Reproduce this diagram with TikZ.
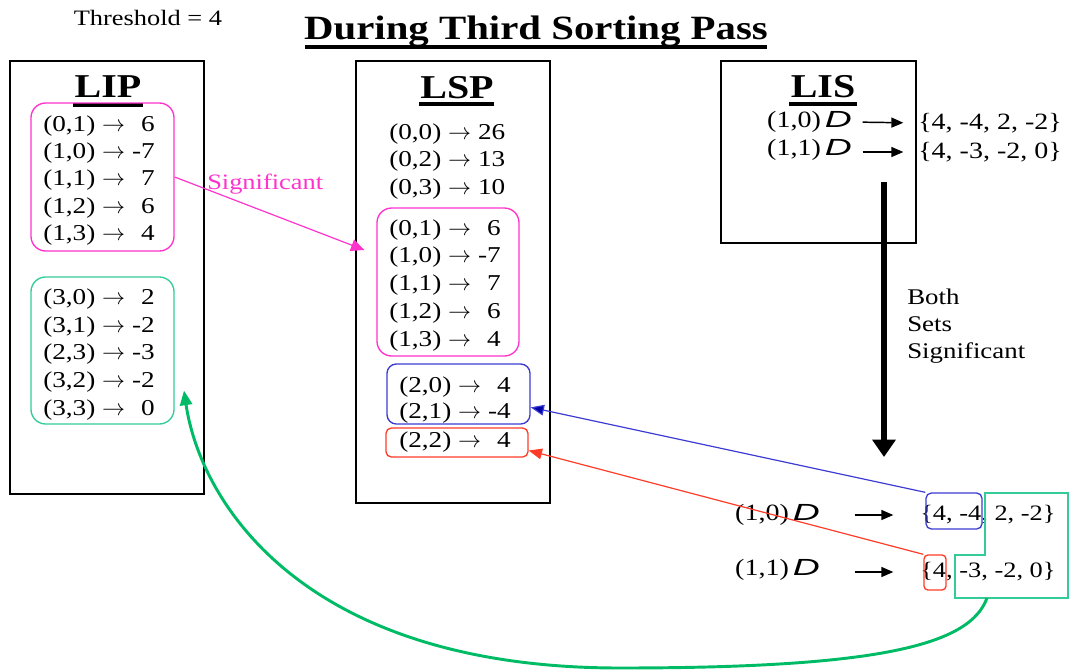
\documentclass[tikz,border=0pt]{standalone}
\usepackage{fontspec}
\setmainfont[FakeStretch=1.2]{Liberation Serif}
\newfontfamily\dfont[FakeStretch=1.6]{Liberation Sans}
\usetikzlibrary{arrows.meta,fit}

\definecolor{sigpink}{RGB}{255,51,204}
\definecolor{setgreen}{RGB}{51,204,153}
\definecolor{curvegreen}{RGB}{0,187,102}
\definecolor{setblue}{RGB}{60,60,210}
\definecolor{tipblue}{RGB}{0,0,170}
\definecolor{setred}{RGB}{255,60,40}

\newcommand{\Dset}{\,{\dfont\itshape D}}

\tikzset{
  listbox/.style={draw=black,line width=1.1pt,inner sep=0pt},
  entry/.style={anchor=west,inner sep=0pt,font=\fontsize{17}{20}\selectfont},
  settext/.style={inner sep=0pt,font=\fontsize{17.5}{20}\selectfont},
  listtitle/.style={inner sep=0pt,font=\bfseries\fontsize{25}{28}\selectfont},
  uline/.style={line width=3pt},
  groupbox/.style={draw=#1,line width=1pt,rounded corners=11pt,inner sep=0pt},
  smallarrow/.style={-{Triangle[length=9pt,width=7.5pt]},line width=1.1pt}
}

\begin{document}
\begin{tikzpicture}[x=0.75pt,y=-0.75pt]
\useasboundingbox (0,0) rectangle (1074,671);

% headings
\node[inner sep=0pt,font=\fontsize{16.5}{18}\selectfont] (thresh) at (148,18) {Threshold = 4};
\node[inner sep=0pt,font=\bfseries\fontsize{25.5}{28}\selectfont] (title) at (536,31) {During Third Sorting Pass};
\draw[uline] (305,47) -- (767,47);

% the three lists
\node[listbox,fit={(10,61) (204,494)}] (lip) {};
\node[listbox,fit={(356,61) (550,503)}] (lsp) {};
\node[listbox,fit={(721,61) (916,243)}] (lis) {};

\node[listtitle] (liptitle) at (108,87) {LIP};
\draw[uline] (73,105) -- (143,105);
\node[listtitle] (lsptitle) at (457,88) {LSP};
\draw[uline] (419,104) -- (494,104);
\node[listtitle] (listitle) at (823,87) {LIS};
\draw[uline] (789,104) -- (857,104);

% LIP entries
\node[groupbox=sigpink,fit={(31,103) (174,251)}] (lippink) {};
\node[entry] (lipa) at (43,126) {(0,1) $\rightarrow$ \hphantom{-}6};
\node[entry] (lipb) at (43,153) {(1,0) $\rightarrow$ -7};
\node[entry] (lipc) at (43,180) {(1,1) $\rightarrow$ \hphantom{-}7};
\node[entry] (lipd) at (43,208) {(1,2) $\rightarrow$ \hphantom{-}6};
\node[entry] (lipe) at (43,235) {(1,3) $\rightarrow$ \hphantom{-}4};

\node[groupbox=setgreen,fit={(31,277) (174,424)}] (lipgreen) {};
\node[entry] (lipf) at (43,299) {(3,0) $\rightarrow$ \hphantom{-}2};
\node[entry] (lipg) at (43,327) {(3,1) $\rightarrow$ -2};
\node[entry] (liph) at (43,354) {(2,3) $\rightarrow$ -3};
\node[entry] (lipi) at (43,382) {(3,2) $\rightarrow$ -2};
\node[entry] (lipj) at (43,410) {(3,3) $\rightarrow$ \hphantom{-}0};

% LSP entries
\node[entry] (lspa) at (389,134) {(0,0) $\rightarrow$ 26};
\node[entry] (lspb) at (389,161) {(0,2) $\rightarrow$ 13};
\node[entry] (lspc) at (389,189) {(0,3) $\rightarrow$ 10};

\node[groupbox=sigpink,fit={(377,208) (519,356)}] (lsppink) {};
\node[entry] (lspd) at (389,230) {(0,1) $\rightarrow$ \hphantom{-}6};
\node[entry] (lspe) at (389,257) {(1,0) $\rightarrow$ -7};
\node[entry] (lspf) at (389,285) {(1,1) $\rightarrow$ \hphantom{-}7};
\node[entry] (lspg) at (389,313) {(1,2) $\rightarrow$ \hphantom{-}6};
\node[entry] (lsph) at (389,341) {(1,3) $\rightarrow$ \hphantom{-}4};

\node[groupbox=setblue,rounded corners=7pt,fit={(387,364) (530,424)}] (lspblue) {};
\node[entry] (lspi) at (399,387) {(2,0) $\rightarrow$ \hphantom{-}4};
\node[entry] (lspj) at (399,413) {(2,1) $\rightarrow$ -4};
\node[groupbox=setred,rounded corners=4pt,fit={(386,428) (528,457)}] (lspred) {};
\node[entry] (lspk) at (399,442) {(2,2) $\rightarrow$ \hphantom{-}4};

% LIS entries
\node[settext,anchor=east] (lisd) at (852,122) {(1,0)\Dset};
\node[settext,anchor=east] (lise) at (852,150) {(1,1)\Dset};
\node[settext,anchor=west] (lisa) at (918,123) {\{4, -4, 2, -2\}};
\node[settext,anchor=west] (lisb) at (918,152) {\{4, -3, -2, 0\}};
\draw[smallarrow,shorten <=8pt,shorten >=11pt] (lisd.east) -- (lisa.west);
\draw[smallarrow,shorten <=8pt,shorten >=11pt] (lise.east |- lisb.west) -- (lisb.west);

% both sets significant
\coordinate (downtop) at (884,182);
\coordinate (downend) at (884,457);
\draw[-{Triangle[length=13pt,width=17pt]},line width=3.8pt] (downtop) -- (downend);
\node[anchor=west,inner sep=0pt,align=left,font=\fontsize{16.8}{20.5}\selectfont] (bothsig) at (907,326) {Both\\Sets\\Significant};

% sets after splitting
\node[settext,anchor=east] (outd) at (820,515) {(1,0)\Dset};
\node[settext,anchor=east] (oute) at (820,570) {(1,1)\Dset};
\node[settext,anchor=west,font=\fontsize{16.5}{20}\selectfont] (outa) at (920,515) {\{4, -4, 2, -2\}};
\node[settext,anchor=west,font=\fontsize{16.5}{20}\selectfont] (outb) at (920,572) {\{4, -3, -2, 0\}};
\draw[smallarrow,shorten <=26pt,shorten >=20pt] (outd.east |- outa.west) -- (outa.west);
\draw[smallarrow,shorten <=26pt,shorten >=20pt] (oute.east |- outb.west) -- (outb.west);

\node[groupbox=setblue,rounded corners=4pt,fit={(926,493) (982,529)}] (outblue) {};
\node[groupbox=setred,rounded corners=3pt,fit={(924,555) (946,590)}] (outred) {};
\draw[setgreen,line width=1pt] (985,493) -- (1068,493) -- (1068,598) -- (955,598) -- (955,555) -- (985,555) -- cycle;
\coordinate (greenout) at (987,598);

% moves between the lists
\draw[sigpink,line width=0.9pt,-{Triangle[length=10pt,width=9pt]}] (lippink.east) -- ([xshift=-9pt,yshift=24pt]lsppink.west);
\node[anchor=west,inner sep=0pt,font=\fontsize{16.5}{18}\selectfont,text=sigpink] (siglabel) at (207,184) {Significant};
\draw[setblue,line width=0.9pt,-{Triangle[length=10pt,width=8pt,fill=tipblue]}] (outblue.north west) -- ([yshift=-10pt]lspblue.east);
\draw[setred,line width=0.9pt,-{Triangle[length=10pt,width=8pt]}] (outred.north west) -- ([yshift=-6pt]lspred.east);
\draw[curvegreen,line width=2.2pt,-{Triangle[length=11pt,width=9pt]}] (greenout)
  .. controls (970,645) and (880,668) .. (620,668)
  .. controls (300,668) and (200,500) .. ([xshift=7pt,yshift=-30pt]lipgreen.east);
\end{tikzpicture}
\end{document}
